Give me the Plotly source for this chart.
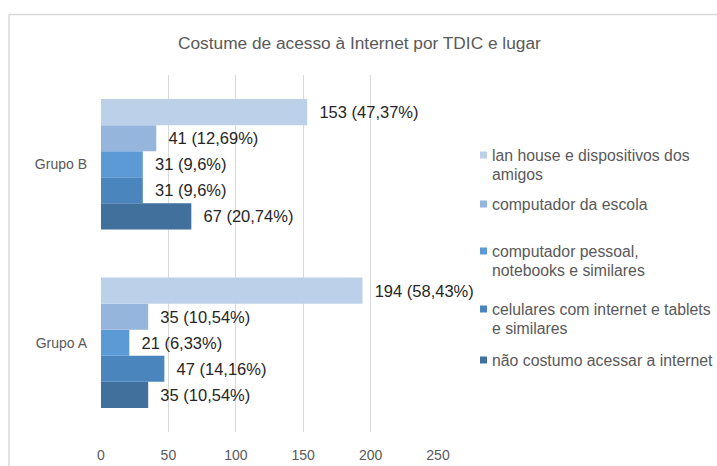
import plotly.graph_objects as go

W, H = 717, 466
ML, MR, MT, MB = 101, 279, 75, 34

title = "Costume de acesso à Internet por TDIC e lugar"
categories = ["Grupo A", "Grupo B"]

# series listed top-of-group first (as in the legend)
series_names = [
    "lan house e dispositivos dos amigos",
    "computador da escola",
    "computador pessoal, notebooks e similares",
    "celulares com internet e tablets e similares",
    "não costumo acessar a internet",
]
legend_lines = [
    ["lan house e dispositivos dos", "amigos"],
    ["computador da escola"],
    ["computador pessoal,", "notebooks e similares"],
    ["celulares com internet e tablets", "e similares"],
    ["não costumo acessar a internet"],
]
values_a = [194, 35, 21, 47, 35]
values_b = [153, 41, 31, 31, 67]
pct_a = ["58,43%", "10,54%", "6,33%", "14,16%", "10,54%"]
pct_b = ["47,37%", "12,69%", "9,6%", "9,6%", "20,74%"]
colors = ["#BCD0EA", "#95B5DC", "#5B9AD5", "#4A85BE", "#41709C"]
x_ticks = [0, 50, 100, 150, 200, 250]

PW = W - ML - MR
PH = H - MT - MB


def px_x(px):
    return (px - ML) / PW


def px_y(py):
    return 1 - (py - MT) / PH


fig = go.Figure()
# plotly stacks the first trace at the bottom of each group -> add in reverse
for i in reversed(range(len(series_names))):
    vals = [values_a[i], values_b[i]]
    labels = ["\u00a0\u00a0%d (%s)" % (values_a[i], pct_a[i]),
              "\u00a0\u00a0%d (%s)" % (values_b[i], pct_b[i])]
    fig.add_trace(go.Bar(
        y=categories, x=vals, orientation="h", name=series_names[i],
        marker=dict(color=colors[i], line=dict(width=0)),
        text=labels, textposition="outside", cliponaxis=False,
        constraintext="none",
        textfont=dict(family="Liberation Sans", size=16.5, color="#262626"),
        showlegend=False,
    ))

annotations = [dict(
    text=title, x=px_x(359), y=px_y(43), xref="paper", yref="paper",
    xanchor="center", yanchor="middle", showarrow=False,
    font=dict(family="Liberation Sans", size=17.3, color="#595959"),
)]
shapes = []
legend_first_y = [155, 204, 251, 309, 360]
line_step = 19.5
for i, lines in enumerate(legend_lines):
    y0 = legend_first_y[i]
    shapes.append(dict(type="rect", xref="paper", yref="paper",
                       x0=px_x(480), x1=px_x(487),
                       y0=px_y(y0 - 3.5), y1=px_y(y0 + 3.5),
                       fillcolor=colors[i], line=dict(width=0)))
    for j, ln in enumerate(lines):
        annotations.append(dict(
            text=ln, x=px_x(490), y=px_y(y0 + j * line_step),
            xref="paper", yref="paper", xanchor="left", yanchor="middle",
            showarrow=False,
            font=dict(family="Liberation Sans", size=15.8, color="#595959"),
        ))

# chart border (cropped at right/bottom in the reference)
shapes.append(dict(type="line", xref="paper", yref="paper",
                   x0=px_x(9), x1=px_x(730), y0=px_y(14.5), y1=px_y(14.5),
                   line=dict(color="#D9D9D9", width=1.5)))
shapes.append(dict(type="line", xref="paper", yref="paper",
                   x0=px_x(9), x1=px_x(9), y0=px_y(14.5), y1=px_y(480),
                   line=dict(color="#D9D9D9", width=1.5)))

fig.update_layout(
    width=W, height=H,
    margin=dict(l=ML, r=MR, t=MT, b=MB, pad=0, autoexpand=False),
    paper_bgcolor="white", plot_bgcolor="white",
    barmode="group", bargap=0.27, bargroupgap=0,
    showlegend=False,
    annotations=annotations, shapes=shapes,
    xaxis=dict(range=[0, 250], tickvals=x_ticks, showgrid=True,
               gridcolor="#D9D9D9", gridwidth=1, zeroline=False,
               showline=False, ticks="", ticklabelstandoff=13,
               tickfont=dict(family="Liberation Sans", size=14, color="#595959")),
    yaxis=dict(categoryorder="array", categoryarray=categories,
               showgrid=False, zeroline=False, showline=False, ticks="",
               ticklabelstandoff=13,
               tickfont=dict(family="Liberation Sans", size=14, color="#595959")),
)

fig.write_html(
    "out.html",
    config={"displayModeBar": False},
    post_script="document.body.style.margin='0';document.body.style.padding='0';",
)
